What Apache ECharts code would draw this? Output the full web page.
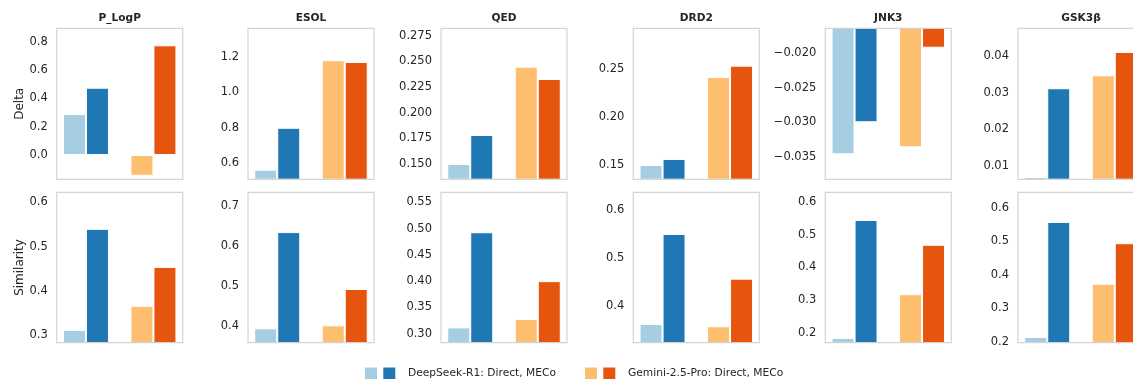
<!DOCTYPE html>
<html>
<head>
<meta charset="utf-8">
<script src="https://cdn.jsdelivr.net/npm/echarts@6/dist/echarts.min.js"></script>
<style>
  html, body { margin: 0; padding: 0; background: #fff; }
  #chart { width: 1133px; height: 379px; }
</style>
</head>
<body>
<div id="chart"></div>
<script>
// metrics, one column of panels each
const metrics = ['P_LogP', 'ESOL', 'QED', 'DRD2', 'JNK3', 'GSK3β']
const groups = ['DeepSeek-R1', 'Gemini-2.5-Pro']

// Delta (top row)
const deltaDeepSeekDirect = [0.289, 0.564, 0.150, 0.1503, -0.03465, 0.0070]
const deltaDeepSeekMECo   = [0.475, 0.800, 0.1783, 0.1566, -0.0300, 0.0312]
const deltaGeminiDirect   = [-0.146, 1.180, 0.2448, 0.242, -0.03364, 0.03474]
const deltaGeminiMECo     = [0.774, 1.170, 0.2328, 0.2538, -0.01919, 0.0411]

// Similarity (bottom row)
const simDeepSeekDirect = [0.3113, 0.3935, 0.312, 0.3617, 0.1837, 0.214]
const simDeepSeekMECo   = [0.540, 0.634, 0.493, 0.550, 0.546, 0.5576]
const simGeminiDirect   = [0.366, 0.401, 0.328, 0.357, 0.318, 0.373]
const simGeminiMECo     = [0.454, 0.4917, 0.400, 0.4565, 0.4696, 0.494]

// tick labels
const deltaTicks = [
    ['0.0', '0.2', '0.4', '0.6', '0.8'],
    ['0.6', '0.8', '1.0', '1.2'],
    ['0.150', '0.175', '0.200', '0.225', '0.250', '0.275'],
    ['0.15', '0.20', '0.25'],
    ['-0.035', '-0.030', '-0.025', '-0.020'],
    ['0.01', '0.02', '0.03', '0.04']
]
const simTicks = [
    ['0.3', '0.4', '0.5', '0.6'],
    ['0.4', '0.5', '0.6', '0.7'],
    ['0.30', '0.35', '0.40', '0.45', '0.50', '0.55'],
    ['0.4', '0.5', '0.6'],
    ['0.2', '0.3', '0.4', '0.5', '0.6'],
    ['0.2', '0.3', '0.4', '0.5', '0.6']
]

// visible y ranges [min, max]
const deltaRange = [[-0.171, 0.894], [0.510, 1.3596], [0.1351, 0.2822], [0.1354, 0.2927], [-0.03828, -0.01637], [0.00637, 0.04755]]
const simRange = [[0.2826, 0.6226], [0.3575, 0.7335], [0.2829, 0.569], [0.3226, 0.637], [0.169, 0.6307], [0.197, 0.646]]

const colors = {
    dsDirect: '#a6cee3',
    dsMECo: '#1f78b4',
    gemDirect: '#fdbf6f',
    gemMECo: '#e6550d'
}
const textColor = '#262626'
const font = 'DejaVu Sans'

let chart = echarts.init(document.getElementById('chart'))

let panelLefts = [56.7, 248, 441, 633.3, 825.3, 1018]
let rowTops = [28.3, 192.3]
let rowHeights = [151, 150.4]
let panelWidth = 126

let grids = [], xAxes = [], yAxes = [], series = [], titles = []

function tickFormatter(ticks) {
    return function (v) {
        let s = ticks.find(t => Math.abs(parseFloat(t) - v) < 1e-9)
        return s ? s.replace('-', '\u2212') : ''
    }
}

let rows = [
    { name: 'Delta', ticks: deltaTicks, range: deltaRange,
      dd: deltaDeepSeekDirect, dm: deltaDeepSeekMECo, gd: deltaGeminiDirect, gm: deltaGeminiMECo },
    { name: 'Similarity', ticks: simTicks, range: simRange,
      dd: simDeepSeekDirect, dm: simDeepSeekMECo, gd: simGeminiDirect, gm: simGeminiMECo }
]

rows.forEach(function (row, r) {
    metrics.forEach(function (m, c) {
        let idx = grids.length
        // frame drawn above the bars, like matplotlib spines
        grids.push({
            left: panelLefts[c], top: rowTops[r], width: panelWidth, height: rowHeights[r],
            show: true, borderColor: '#d4d4d4', borderWidth: 1.2, backgroundColor: 'transparent',
            z: 5, outerBoundsMode: 'none', containLabel: false
        })
        xAxes.push({
            gridIndex: idx, type: 'value', min: -0.4333, max: 1.4333, show: false
        })
        yAxes.push({
            gridIndex: idx, type: 'value',
            min: row.range[c][0], max: row.range[c][1],
            axisLine: { show: false }, axisTick: { show: false }, splitLine: { show: false },
            axisLabel: {
                customValues: row.ticks[c].map(Number),
                formatter: tickFormatter(row.ticks[c]),
                margin: 9, fontSize: 11.5, color: textColor, fontFamily: font
            },
            name: c === 0 ? row.name : '',
            nameLocation: 'middle', nameRotate: 90, nameGap: 30,
            nameTextStyle: { fontSize: 12, color: textColor, fontFamily: font }
        })
        let base = {
            type: 'bar', xAxisIndex: idx, yAxisIndex: idx, barWidth: 23, barGap: '0%',
            clip: true, animation: false
        }
        series.push(Object.assign({}, base, {
            name: 'Direct',
            data: [
                { value: [0, row.dd[c]], itemStyle: { color: colors.dsDirect, borderColor: '#fff', borderWidth: 1 } },
                { value: [1, row.gd[c]], itemStyle: { color: colors.gemDirect, borderColor: '#fff', borderWidth: 1 } }
            ]
        }))
        series.push(Object.assign({}, base, {
            name: 'MECo',
            data: [
                { value: [0, row.dm[c]], itemStyle: { color: colors.dsMECo, borderColor: '#fff', borderWidth: 1 } },
                { value: [1, row.gm[c]], itemStyle: { color: colors.gemMECo, borderColor: '#fff', borderWidth: 1 } }
            ]
        }))
        if (r === 0) {
            titles.push({
                text: m, left: panelLefts[c] + panelWidth / 2, top: 13, textAlign: 'center', padding: 0,
                textStyle: { fontSize: 10.6, fontWeight: 'bold', color: textColor, fontFamily: font }
            })
        }
    })
})

// legend-only series (empty), two swatches per model
let legendItems = [
    { name: groups[0] + ': Direct', color: colors.dsDirect, left: 365, label: false },
    { name: groups[0] + ': Direct, MECo', color: colors.dsMECo, left: 383.3, label: true },
    { name: groups[1] + ': Direct', color: colors.gemDirect, left: 585, label: false },
    { name: groups[1] + ': Direct, MECo', color: colors.gemMECo, left: 603.3, label: true }
]
legendItems.forEach(function (it) {
    series.push({
        type: 'scatter', name: it.name, data: [], xAxisIndex: 0, yAxisIndex: 0,
        itemStyle: { color: it.color, opacity: 1 }
    })
})
let legends = legendItems.map(function (it) {
    return {
        data: [it.name], left: it.left, top: 367.5, padding: 0, icon: 'rect',
        itemWidth: 12, itemHeight: 12, selectedMode: false,
        itemStyle: { color: it.color, opacity: 1 },
        formatter: it.label ? null : function () { return '' },
        textStyle: { fontSize: 10.7, color: textColor, fontFamily: font, lineHeight: 12, padding: [0, 0, 0, 7.6] }
    }
})

let option = {
    animation: false,
    backgroundColor: '#fff',
    title: titles,
    legend: legends,
    grid: grids,
    xAxis: xAxes,
    yAxis: yAxes,
    series: series
}
chart.setOption(option)
</script>
</body>
</html>
